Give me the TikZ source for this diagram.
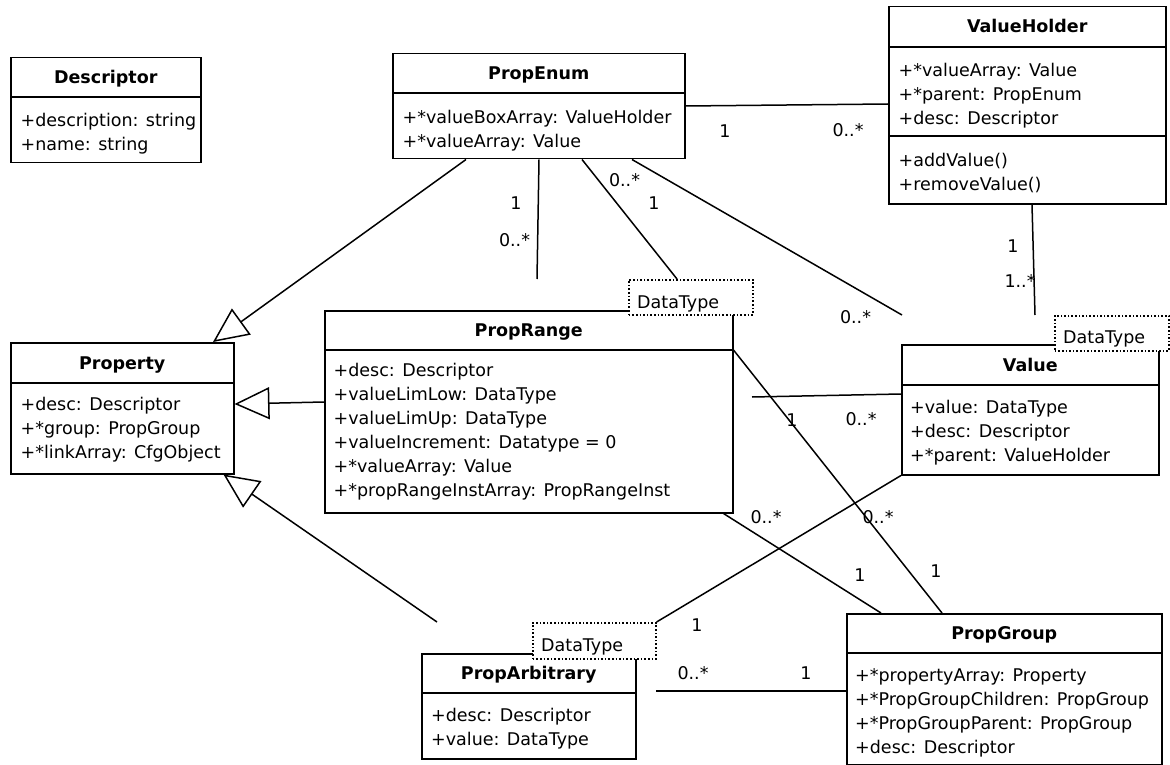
\documentclass[tikz,border=0pt]{standalone}
\usepackage{fontspec}
\setmainfont{DejaVu Sans}
\usetikzlibrary{arrows.meta}
\newcommand{\umlfont}{\fontsize{17.5}{21}\selectfont}
\tikzset{
cls/.style={draw, line width=1.5pt, fill=white, inner sep=0pt, anchor=north west},
sep/.style={line width=1.5pt},
ttl/.style={font=\umlfont\bfseries, anchor=base, inner sep=0pt},
attr/.style={font=\umlfont, anchor=base west, inner sep=0pt},
dtbox/.style={draw, dotted, line width=1.6pt, fill=white, inner sep=0pt, anchor=north west},
mult/.style={font=\umlfont, anchor=base, inner sep=0pt},
assoc/.style={line width=1.5pt},
gen/.style={line width=1.5pt, -{Triangle[open, length=35pt, width=32pt, line width=1.5pt]}},
}
% rows of a class box: node, x offset, first baseline offset, texts
\newcommand{\umlrows}[4]{%
  \foreach \txt [count=\i from 0] in {#4}
    \node[attr] (#1-\i) at ([xshift=#2pt, yshift={-#3pt-24pt*\i}]#1.north west) {\txt};}

\begin{document}
\begin{tikzpicture}[x=1pt, y=-1pt]
\useasboundingbox (0,0) rectangle (1170,765);

    \node[cls, minimum width=190pt, minimum height=105pt] (descriptor) at (10,57) {};
    \node[cls, minimum width=292pt, minimum height=105pt] (propEnum) at (392,53) {};
    \node[cls, minimum width=277pt, minimum height=197pt] (valueHolder) at (888,6) {};
    \node[cls, minimum width=223pt, minimum height=131pt] (property) at (10,342) {};
    \node[cls, minimum width=408pt, minimum height=202pt] (propRange) at (324,310) {};
    \node[cls, minimum width=257pt, minimum height=130pt] (value) at (901,344) {};
    \node[cls, minimum width=214pt, minimum height=105pt] (propArbitrary) at (421,653) {};
    \node[cls, minimum width=315pt, minimum height=151pt] (propGroup) at (846,613) {};

    \draw[sep] ([yshift=-40pt]descriptor.north west) -- ++(192,0);
    \draw[sep] ([yshift=-40pt]propEnum.north west) -- ++(294,0);
    \draw[sep] ([yshift=-41pt]valueHolder.north west) -- ++(279,0);
    \draw[sep] ([yshift=-130pt]valueHolder.north west) -- ++(279,0);
    \draw[sep] ([yshift=-41pt]property.north west) -- ++(225,0);
    \draw[sep] ([yshift=-40pt]propRange.north west) -- ++(408,0);
    \draw[sep] ([yshift=-41pt]value.north west) -- ++(259,0);
    \draw[sep] ([yshift=-40pt]propArbitrary.north west) -- ++(216,0);
    \draw[sep] ([yshift=-40pt]propGroup.north west) -- ++(317,0);

    \node[ttl] (descriptor-t) at ([yshift=-26.5pt]descriptor.north) {Descriptor};
    \node[ttl] (propEnum-t) at ([yshift=-26.5pt]propEnum.north) {PropEnum};
    \node[ttl] (valueHolder-t) at ([yshift=-27pt]valueHolder.north) {ValueHolder};
    \node[ttl] (property-t) at ([yshift=-27pt]property.north) {Property};
    \node[ttl] (propRange-t) at ([yshift=-26.5pt]propRange.north) {PropRange};
    \node[ttl] (value-t) at ([yshift=-27pt]value.north) {Value};
    \node[ttl] (propArbitrary-t) at ([yshift=-26.5pt]propArbitrary.north) {PropArbitrary};
    \node[ttl] (propGroup-t) at ([yshift=-26.5pt]propGroup.north) {PropGroup};

    \umlrows{descriptor}{10.5}{69.5}{+description: string, +name: string}
    \umlrows{propEnum}{10.5}{70.5}{+*valueBoxArray: ValueHolder, +*valueArray: Value}
    \umlrows{valueHolder}{10.5}{70.5}{+*valueArray: Value, +*parent: PropEnum, +desc: Descriptor}
    \foreach \txt [count=\i from 0] in {{+addValue()}, {+removeValue()}}
      \node[attr] (valueHolder-op\i) at ([xshift=10.5pt, yshift={-160.5pt-24pt*\i}]valueHolder.north west) {\txt};
    \umlrows{property}{10.5}{68.5}{+desc: Descriptor, +*group: PropGroup, +*linkArray: CfgObject}
    \umlrows{propRange}{9.5}{66.5}{+desc: Descriptor, +valueLimLow: DataType, +valueLimUp: DataType,
      +valueIncrement: Datatype = 0, +*valueArray: Value, +*propRangeInstArray: PropRangeInst}
    \umlrows{value}{9}{69.5}{+value: DataType, +desc: Descriptor, +*parent: ValueHolder}
    \umlrows{propArbitrary}{10}{68.5}{+desc: Descriptor, +value: DataType}
    \umlrows{propGroup}{9}{68.5}{+*propertyArray: Property, +*PropGroupChildren: PropGroup,
      +*PropGroupParent: PropGroup, +desc: Descriptor}

    \node[dtbox, minimum width=124pt, minimum height=35pt] (rangeDT) at (628,279) {};
    \node[dtbox, minimum width=114pt, minimum height=35pt] (valueDT) at (1054,315) {};
    \node[dtbox, minimum width=123pt, minimum height=36pt] (arbDT) at (532,622) {};
    \node[attr] (rangeDT-t) at ([xshift=9pt, yshift=-29pt]rangeDT.north west) {DataType};
    \node[attr] (valueDT-t) at ([xshift=9pt, yshift=-28pt]valueDT.north west) {DataType};
    \node[attr] (arbDT-t) at ([xshift=9pt, yshift=-29pt]arbDT.north west) {DataType};

    \coordinate (rangeTop) at (537,279);
    \coordinate (valueTopL) at (902,315);
    \coordinate (valueTopR) at (1035,315);
    \coordinate (rangeRight) at (752,397);
    \coordinate (arbRight) at (656,691);
    \coordinate (arbTop) at (437,622);

    \draw[gen] ([xshift=74pt]propEnum.south west) -- ([xshift=203pt]property.north west);
    \draw[gen] ([yshift=-92pt]propRange.north west) -- ([yshift=-62pt]property.north east);
    \draw[gen] (arbTop) -- ([xshift=-11pt]property.south east);

    \draw[assoc] ([yshift=-53pt]propEnum.north east) -- ([yshift=-98pt]valueHolder.north west);
    \draw[assoc] ([xshift=147pt]propEnum.south west) -- (rangeTop);
    \draw[assoc] ([xshift=190pt]propEnum.south west) -- ([xshift=49pt]rangeDT.north west);
    \draw[assoc] ([xshift=240pt]propEnum.south west) -- (valueTopL);
    \draw[assoc] ([xshift=144pt]valueHolder.south west) -- (valueTopR);
    \draw[assoc] (rangeRight) -- ([yshift=-50pt]value.north west);
    \draw[assoc] ([yshift=-40pt]propRange.north east) -- ([xshift=96pt]propGroup.north west);
    \draw[assoc] ([xshift=-10pt]propRange.south east) -- ([xshift=35pt]propGroup.north west);
    \draw[assoc] (value.south west) -- (arbDT.north east);
    \draw[assoc] (arbRight) -- ([yshift=-78pt]propGroup.north west);

    \node[mult] (m1) at (725,138) {1};
    \node[mult] (m2) at (848,136.5) {0..*};
    \node[mult] (m3) at (516,209) {1};
    \node[mult] (m4) at (514.5,246.5) {0..*};
    \node[mult] (m5) at (624.5,186.5) {0..*};
    \node[mult] (m6) at (654,209) {1};
    \node[mult] (m7) at (855.5,323) {0..*};
    \node[mult] (m8) at (1013,252.5) {1};
    \node[mult] (m9) at (1020,287.5) {1..*};
    \node[mult] (m10) at (792,426.5) {1};
    \node[mult] (m11) at (861,425.5) {0..*};
    \node[mult] (m12) at (878,523.5) {0..*};
    \node[mult] (m13) at (936,577.5) {1};
    \node[mult] (m14) at (766,523.5) {0..*};
    \node[mult] (m15) at (860,581.5) {1};
    \node[mult] (m16) at (697,631.5) {1};
    \node[mult] (m17) at (693,679.5) {0..*};
    \node[mult] (m18) at (806,679.5) {1};
\end{tikzpicture}
\end{document}
